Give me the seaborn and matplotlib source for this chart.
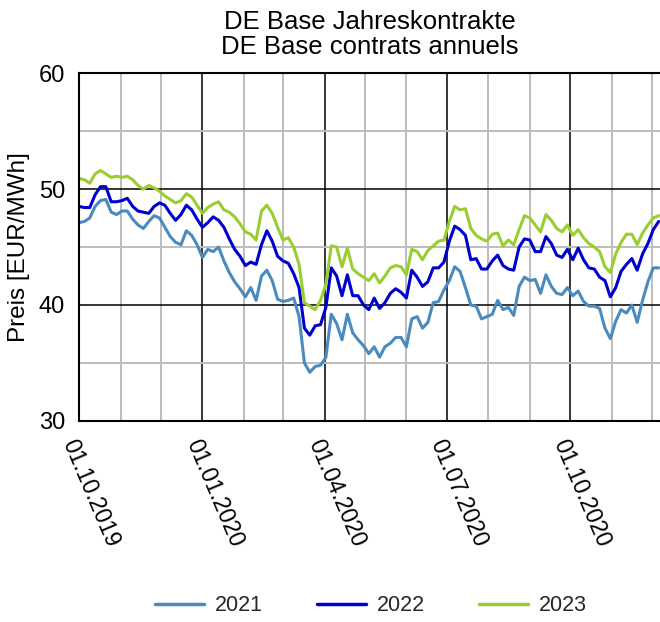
import numpy as np
import pandas as pd
import matplotlib
matplotlib.use("Agg")
import matplotlib.pyplot as plt
import matplotlib.dates as mdates
import seaborn as sns

# ---- data (4-day sampling) ----
start_date = "2019-10-01"
n_points = 109

y2021 = [47.1, 47.2, 47.5, 48.5, 49.0, 49.1, 48.0, 47.8, 48.1, 48.1,
         47.4, 46.9, 46.6, 47.2, 47.7, 47.5, 46.7, 45.9, 45.4, 45.2,
         46.4, 46.0, 45.2, 44.1, 44.8, 44.6, 45.0, 43.8, 42.8, 42.0,
         41.4, 40.7, 41.5, 40.4, 42.5, 43.0, 42.1, 40.5, 40.3, 40.4,
         40.6, 39.0, 35.0, 34.2, 34.7, 34.8, 35.5, 39.2, 38.4, 37.0,
         39.2, 37.6, 37.0, 36.5, 35.8, 36.4, 35.5, 36.4, 36.7, 37.2,
         37.2, 36.4, 38.8, 39.0, 38.0, 38.5, 40.2, 40.3, 41.3, 42.1,
         43.3, 42.9, 41.5, 40.0, 39.9, 38.8, 39.0, 39.2, 40.4, 39.6,
         39.8, 39.1, 41.6, 42.4, 42.1, 42.2, 41.0, 42.6, 41.6, 41.0,
         40.9, 41.5, 40.8, 41.2, 40.3, 39.9, 39.9, 39.7, 38.0, 37.1,
         38.6, 39.6, 39.3, 40.0, 38.5, 40.4, 42.0, 43.2, 43.2]

y2022 = [48.5, 48.4, 48.4, 49.5, 50.2, 50.2, 48.9, 48.9, 49.0, 49.2,
         48.5, 48.1, 48.0, 47.9, 48.5, 48.8, 48.6, 47.9, 47.3, 47.8,
         48.6, 48.2, 47.4, 46.7, 47.1, 47.6, 47.3, 46.7, 45.7, 44.8,
         44.2, 43.4, 43.7, 43.5, 45.2, 46.4, 45.5, 44.2, 43.8, 43.6,
         42.7, 41.5, 38.0, 37.4, 38.2, 38.3, 39.8, 43.2, 42.5, 40.8,
         42.6, 40.8, 40.8, 40.0, 39.6, 40.6, 39.7, 40.2, 41.0, 41.4,
         41.1, 40.6, 43.0, 42.4, 41.6, 42.0, 43.2, 43.2, 43.7, 45.5,
         46.8, 46.5, 46.0, 43.9, 44.0, 43.1, 43.1, 43.8, 44.3, 43.4,
         43.1, 43.0, 45.0, 45.7, 45.6, 44.6, 44.6, 45.9, 45.3, 44.3,
         44.1, 44.8, 43.9, 44.9, 43.9, 43.2, 43.1, 42.4, 42.1, 40.7,
         41.5, 42.9, 43.5, 44.0, 43.0, 44.4, 45.3, 46.5, 47.2]

y2023 = [50.9, 50.8, 50.5, 51.3, 51.6, 51.3, 51.0, 51.1, 51.0, 51.1,
         50.8, 50.3, 50.0, 50.3, 50.1, 49.8, 49.4, 49.1, 48.8, 49.0,
         49.6, 49.3, 48.6, 47.9, 48.4, 48.7, 48.9, 48.2, 48.0, 47.6,
         47.0, 46.3, 46.1, 45.6, 48.1, 48.6, 47.9, 46.7, 45.6, 45.8,
         45.0, 43.5, 40.2, 39.9, 39.6, 40.4, 41.8, 45.1, 45.0, 43.3,
         44.9, 43.1, 42.7, 42.4, 42.1, 42.7, 41.9, 42.5, 43.2, 43.4,
         43.3, 42.6, 44.8, 44.6, 43.9, 44.7, 45.1, 45.5, 45.6, 47.2,
         48.5, 48.2, 48.3, 46.6, 46.0, 45.7, 45.5, 46.1, 46.2, 45.1,
         45.6, 45.2, 46.5, 47.7, 47.5, 46.9, 46.3, 47.8, 47.3, 46.6,
         46.3, 46.9, 46.0, 46.5, 45.8, 45.3, 45.0, 44.6, 43.3, 42.8,
         44.4, 45.4, 46.1, 46.1, 45.2, 46.2, 46.9, 47.5, 47.7]

series_names = ["2021", "2022", "2023"]
colors = {"2021": "#4a8bbf", "2022": "#0000cc", "2023": "#9acd32"}

title_lines = ["DE Base Jahreskontrakte", "DE Base contrats annuels"]
y_label = "Preis [EUR/MWh]"

dates = pd.date_range(start_date, periods=n_points, freq="4D")
df = pd.concat([
    pd.DataFrame({"Datum": dates, "Preis": vals, "Jahr": name})
    for name, vals in zip(series_names, [y2021, y2022, y2023])
], ignore_index=True)

# ---- plot ----
sns.set_theme(style="white")
plt.rcParams["font.family"] = ["Liberation Sans", "DejaVu Sans"]

fig = plt.figure(figsize=(6.6, 6.22), dpi=100)
ax = fig.add_axes([0.1197, 0.3232, 0.8803, 0.5594])

sns.lineplot(data=df, x="Datum", y="Preis", hue="Jahr", palette=colors,
             linewidth=2.2, ax=ax, legend=False)

ax.set_xlim(pd.Timestamp("2019-10-01"), pd.Timestamp("2020-12-07"))
ax.set_ylim(30, 60)

ax.xaxis.set_major_locator(mdates.MonthLocator(bymonth=[1, 4, 7, 10]))
ax.xaxis.set_minor_locator(mdates.MonthLocator())
ax.xaxis.set_major_formatter(mdates.DateFormatter("%d.%m.%Y"))
ax.set_yticks([30, 40, 50, 60])
ax.set_yticks([35, 45, 55], minor=True)

ax.grid(which="minor", color="#bdbdbd", linewidth=1.4)
ax.grid(which="major", color="black", linewidth=1.1)
ax.set_axisbelow(True)

ax.tick_params(axis="both", which="major", direction="out", length=7,
               width=1.3, color="black", labelsize=17, labelcolor="black")
ax.tick_params(axis="both", which="minor", direction="out", length=5,
               width=1.1, color="#555555")
ax.tick_params(axis="y", which="major", pad=3)
for lbl in ax.get_xticklabels():
    lbl.set_rotation(-67)
    lbl.set_ha("left")
    lbl.set_va("top")
    lbl.set_rotation_mode("anchor")
ax.tick_params(axis="x", which="major", pad=4, labelsize=16.5)

for side in ["left", "bottom", "top"]:
    ax.spines[side].set_visible(True)
    ax.spines[side].set_color("black")
    ax.spines[side].set_linewidth(1.5)
ax.spines["right"].set_visible(False)

ax.set_xlabel("")
ax.set_ylabel(y_label, fontsize=17.5, color="black", labelpad=6)
ax.set_title("\n".join(title_lines), fontsize=18.5, color="black", pad=14,
             linespacing=1.05)

handles = [plt.Line2D([], [], color=colors[n], linewidth=2.5) for n in series_names]
fig.legend(handles, series_names, loc="center", bbox_to_anchor=(0.562, 0.026),
           ncol=3, frameon=False, fontsize=15.5, handlelength=2.3,
           columnspacing=2.5, handletextpad=0.5)

fig.savefig("out.png", dpi=100)
